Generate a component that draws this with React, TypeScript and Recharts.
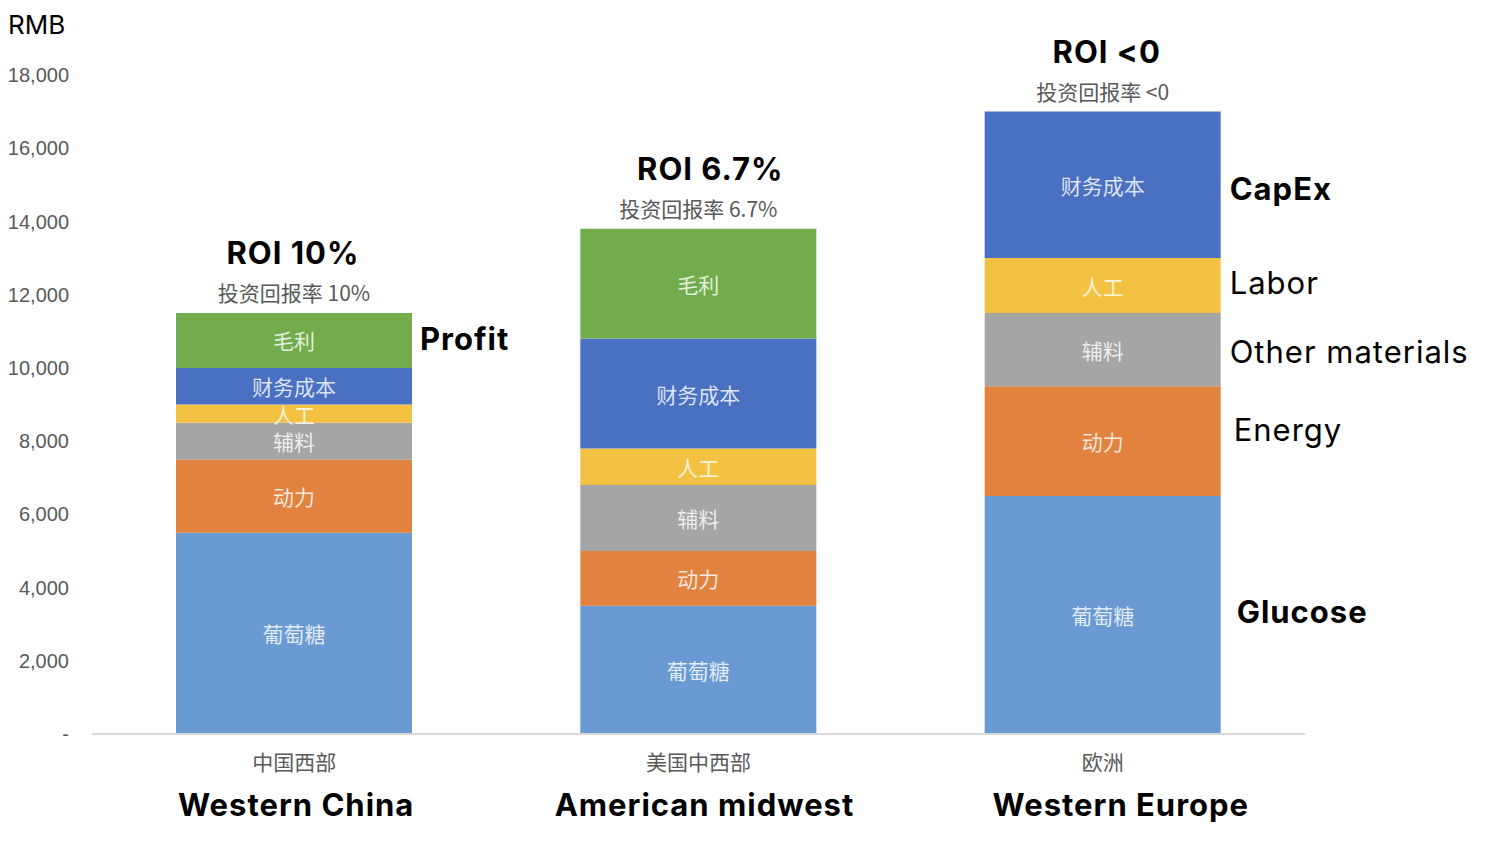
import { BarChart, Bar, XAxis, YAxis, LabelList } from "recharts";

const categories = ["中国西部", "美国中西部", "欧洲"];
const regionNames = ["Western China", "American midwest", "Western Europe"];
const roiTitles = ["ROI 10%", "ROI 6.7%", "ROI <0"];
const roiSubtitles = ["投资回报率 10%", "投资回报率 6.7%", "投资回报率 <0"];

const glucose = [5500, 3500, 6500];
const energy = [2000, 1500, 3000];
const otherMaterials = [1000, 1800, 2000];
const labor = [500, 1000, 1500];
const capex = [1000, 3000, 4000];
const profit = [1500, 3000, 0];

const yTicks = [0, 2000, 4000, 6000, 8000, 10000, 12000, 14000, 16000, 18000];

const CJK = '"Noto Sans CJK SC", "Noto Sans", sans-serif';
const LATIN = 'Inter, "Liberation Sans", Arial, sans-serif';
const AXIS = '"Liberation Sans", Arial, sans-serif';

// small horizontal nudges so the english captions sit where the slide had them
const regionNudge = [2, 6, 18];
const roiNudge = [-1, 12, 4];

// stack order bottom -> top; sideAt = which bar gets the english label on its right
const series = [
  { key: "glucose", zh: "葡萄糖", en: "Glucose", bold: true, color: "#6A9AD2", sideAt: 2, dx: 8, dy: -4 },
  { key: "energy", zh: "动力", en: "Energy", bold: false, color: "#E2823F", sideAt: 2, dx: 5, dy: -12 },
  { key: "other", zh: "辅料", en: "Other materials", bold: false, color: "#A5A5A5", sideAt: 2, dx: 1, dy: 2 },
  { key: "labor", zh: "人工", en: "Labor", bold: false, color: "#F3C242", sideAt: 2, dx: 1, dy: -3 },
  { key: "capex", zh: "财务成本", en: "CapEx", bold: true, color: "#4A70C2", sideAt: 2, dx: 1, dy: 4 },
  { key: "profit", zh: "毛利", en: "Profit", bold: true, color: "#72AC4D", sideAt: 0, dx: 0, dy: -2 },
];

const values: Record<string, number[]> = {
  glucose, energy, other: otherMaterials, labor, capex, profit,
};

const data = categories.map((c, i) => ({
  name: c,
  glucose: glucose[i],
  energy: energy[i],
  other: otherMaterials[i],
  labor: labor[i],
  capex: capex[i],
  profit: profit[i],
}));

// is series #si the highest non-empty segment of bar #i
const isTopSegment = (si: number, i: number) =>
  values[series[si].key][i] > 0 && series.slice(si + 1).every((s) => values[s.key][i] === 0);

const segLabel = (si: number) => (props: any) => {
  const s = series[si];
  const { x, y, width, height, value, index } = props;
  const cx = x + width / 2;
  const out: any[] = [];
  if (value > 0) {
    out.push(
      <text key="in" x={cx} y={y + height / 2} textAnchor="middle" dominantBaseline="central"
        fill="#ffffff" fillOpacity={0.82} fontSize={21} fontFamily={CJK}>
        {s.zh}
      </text>
    );
  }
  if (index === s.sideAt) {
    out.push(
      <text key="side" x={x + width + 8 + s.dx} y={y + height / 2 + s.dy} textAnchor="start" dominantBaseline="central"
        fill="#000" fontSize={31} letterSpacing={1} fontWeight={s.bold ? 700 : 400} fontFamily={LATIN}>
        {s.en}
      </text>
    );
  }
  if (isTopSegment(si, index)) {
    out.push(
      <g key="roi">
        <text x={cx + roiNudge[index]} y={y - 49} textAnchor="middle" fill="#000" fontSize={31}
          letterSpacing={1} fontWeight={700} fontFamily={LATIN}>
          {roiTitles[index]}
        </text>
        <text x={cx} y={y - 21} textAnchor="middle" dominantBaseline="central" fill="#595959" fontSize={21} fontFamily={CJK}>
          {roiSubtitles[index]}
        </text>
      </g>
    );
  }
  return <g>{out}</g>;
};

const XTick = (props: any) => {
  const { x, y, payload, index } = props;
  return (
    <g>
      <text x={x} y={y + 27} textAnchor="middle" dominantBaseline="central" fill="#595959" fontSize={21} fontFamily={CJK}>
        {payload.value}
      </text>
      <text x={x + regionNudge[index]} y={y + 82} textAnchor="middle" fill="#000" fontSize={31}
        letterSpacing={1} fontWeight={700} fontFamily={LATIN}>
        {regionNames[index]}
      </text>
    </g>
  );
};

export default function App() {
  return (
    <div style={{ position: "absolute", left: 0, top: 0, width: 1488, height: 846, background: "#fff" }}>
      <div style={{ position: "absolute", left: 8, top: 8, fontFamily: LATIN, fontSize: 26, color: "#000", lineHeight: "34px" }}>
        RMB
      </div>
      <BarChart width={1488} height={846} data={data} barSize={236}
        margin={{ top: 75, right: 183, bottom: 0, left: 0 }}>
        <XAxis dataKey="name" height={112} axisLine={{ stroke: "#D9D9D9", strokeWidth: 2 }} tickLine={false}
          tickSize={0} tickMargin={0} tick={<XTick />} interval={0} />
        <YAxis width={92} domain={[0, 18000]} ticks={yTicks} axisLine={false} tickLine={false}
          tickSize={0} tickMargin={23}
          tick={{ fill: "#595959", fontSize: 20, fontFamily: AXIS }}
          tickFormatter={(v: number) => (v === 0 ? "-" : v.toLocaleString("en-US"))} />
        {series.map((s, si) => (
          <Bar key={s.key} dataKey={s.key} stackId="a" fill={s.color} isAnimationActive={false}>
            <LabelList dataKey={s.key} content={segLabel(si)} />
          </Bar>
        ))}
      </BarChart>
    </div>
  );
}
